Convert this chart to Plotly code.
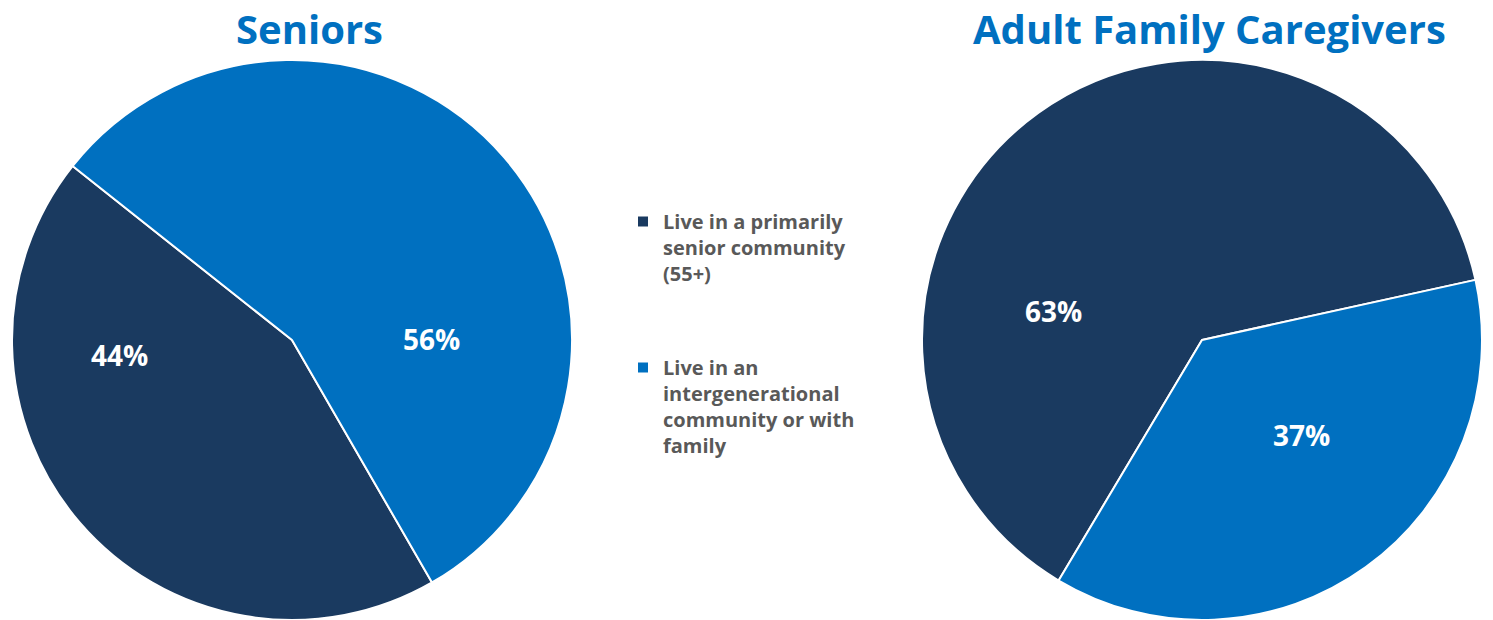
import math
import plotly.graph_objects as go

categories = ["Live in a primarily<br>senior community<br>(55+)",
              "Live in an<br>intergenerational<br>community or with<br>family"]
seniors_values = [44, 56]
caregivers_values = [63, 37]
titles = ["Seniors", "Adult Family Caregivers"]
colors = ["#1A3A60", "#0070C0"]

W, H = 1493, 620
FONT = "Open Sans"
R = 280  # pie radius, px
pies = [
    dict(values=seniors_values, title=titles[0], cx=292, cy=340, rotation=150,
         title_x=309, label_frac=[0.726, 0.70], label_r=[0.62, 0.50]),
    dict(values=caregivers_values, title=titles[1], cx=1202, cy=340, rotation=210.8,
         title_x=1209, label_frac=[0.31, 0.42], label_r=[0.54, 0.49]),
]

fig = go.Figure()
for p in pies:
    fig.add_trace(go.Pie(
        labels=categories, values=p["values"], sort=False, direction="clockwise",
        rotation=p["rotation"], showlegend=False, textinfo="none",
        marker=dict(colors=colors, line=dict(color="white", width=2)),
        domain=dict(x=[(p["cx"] - R) / W, (p["cx"] + R) / W],
                    y=[1 - (p["cy"] + R) / H, 1 - (p["cy"] - R) / H]),
        name=p["title"], hoverinfo="label+percent",
    ))
    fig.add_annotation(text=p["title"], x=p["title_x"] / W, y=1,
                       xref="paper", yref="paper", xanchor="center", yanchor="top",
                       showarrow=False, borderpad=0,
                       font=dict(family=FONT, size=40, color="#0070C0", weight="bold"))
    total = sum(p["values"])
    start = p["rotation"]
    for v, fr, rr in zip(p["values"], p["label_frac"], p["label_r"]):
        sweep = 360 * v / total
        a = math.radians(start + fr * sweep)
        px = p["cx"] + rr * R * math.sin(a)
        py = p["cy"] - rr * R * math.cos(a)
        fig.add_annotation(text=f"{round(100 * v / total)}%", x=px / W, y=1 - py / H,
                           xref="paper", yref="paper", xanchor="center", yanchor="middle",
                           showarrow=False,
                           font=dict(family=FONT, size=28, color="white", weight="bold"))
        start += sweep

# legend entries (one legend per entry so they can be spaced like the original)
for i, (name, col) in enumerate(zip(categories, colors)):
    fig.add_trace(go.Scatter(x=[None], y=[None], mode="markers", name=name,
                             marker=dict(symbol="square", size=10, color=col),
                             legend="legend" if i == 0 else "legend2",
                             hoverinfo="skip"))

legend_style = dict(xanchor="left", yanchor="top", valign="top",
                    bgcolor="rgba(0,0,0,0)",
                    font=dict(family=FONT, size=20, color="#595959", weight="bold"))
fig.update_layout(
    width=W, height=H, margin=dict(l=0, r=0, t=0, b=0),
    paper_bgcolor="white", plot_bgcolor="white",
    xaxis=dict(visible=False), yaxis=dict(visible=False),
    showlegend=True,
    legend=dict(x=623 / W, y=1 - 202 / H, **legend_style),
    legend2=dict(x=623 / W, y=1 - 348 / H, **legend_style),
)
fig.write_html("out.html", config={"displayModeBar": False},
               post_script="document.body.style.margin='0';")
